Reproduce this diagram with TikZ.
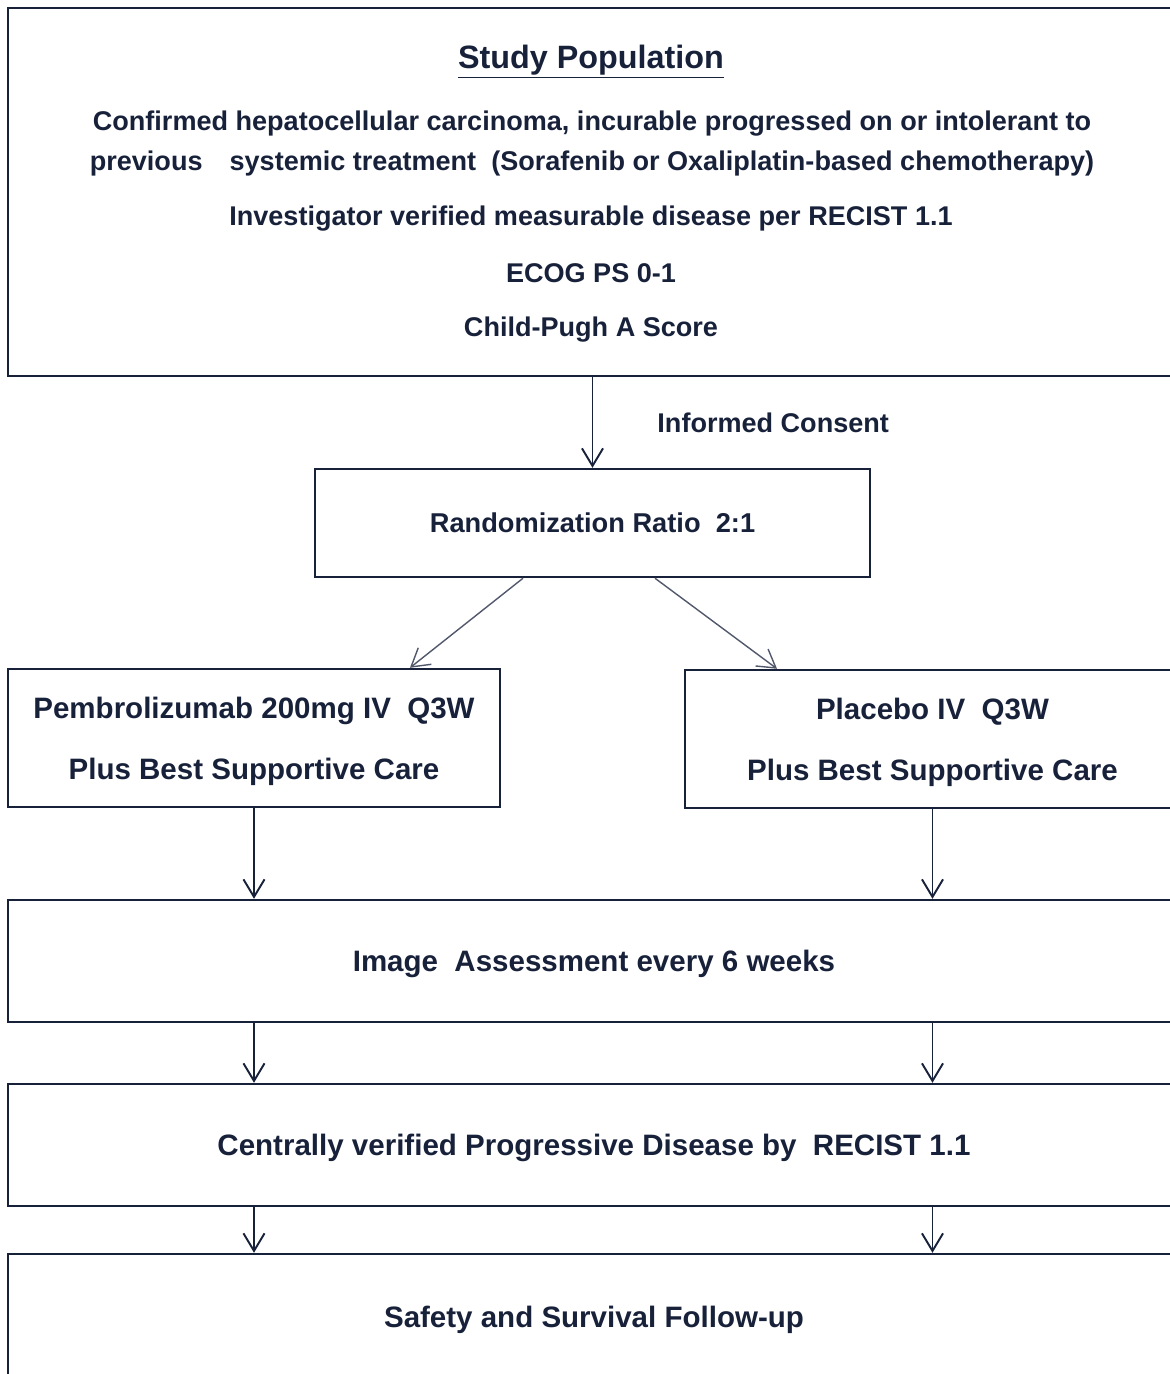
\documentclass[tikz,border=0pt]{standalone}
\usepackage{fontspec}
\setmainfont{Liberation Sans}
\usetikzlibrary{arrows.meta}
\definecolor{ink}{RGB}{24,33,58}
\tikzset{
  box/.style   = {shape=rectangle, draw=ink, line width=1.4pt,
                  inner sep=0pt, align=center, text=ink,
                  font=\bfseries\fontsize{16.8}{20}\selectfont},
  arm/.style   = {box, minimum height=2.76cm, text depth=0pt,
                  font=\bfseries\fontsize{16.8}{34.6}\selectfont},
  wide/.style  = {box, minimum width=23.44cm, text depth=0pt},
  txt/.style   = {text=ink, inner sep=0pt,
                  font=\bfseries\fontsize{15.4}{18}\selectfont},
  flow/.style  = {draw=ink, line width=1.1pt,
                  -{Straight Barb[length=10pt,width=12pt]}},
  split/.style = {flow, draw=ink!75, line width=0.8pt}
}
\begin{document}
\begin{tikzpicture}[x=0.02cm, y=-0.02cm]
  \useasboundingbox (0,0) rectangle (1170,1374);

  % study population
  \node [wide, minimum height=7.36cm] (pop) at (594,192) {};
  \node [txt, font=\bfseries\fontsize{18.4}{22}\selectfont] (title) at (591,62) {\underline{Study Population}};
  \node [txt] (crit1) at (592,124) {Confirmed hepatocellular carcinoma, incurable progressed on or intolerant to};
  \node [txt] (crit2) at (592,163) {previous\hspace{1em}systemic treatment \ (Sorafenib or Oxaliplatin-based chemotherapy)};
  \node [txt] (crit3) at (591,219) {Investigator verified measurable disease per RECIST 1.1};
  \node [txt] (crit4) at (591,273) {ECOG PS 0-1};
  \node [txt] (crit5) at (591,330) {Child-Pugh A Score};

  \node [box, minimum width=11.1cm, minimum height=2.16cm,
         font=\bfseries\fontsize{15.5}{18}\selectfont] (rand) at (592.5,523) {Randomization Ratio \ 2:1};

  % treatment arms
  \node [arm, minimum width=9.84cm] (pembro) at (254,738)
        {Pembrolizumab 200mg IV \ Q3W\\Plus Best Supportive Care};
  \node [arm, minimum width=9.9cm] (placebo) at (932.5,739)
        {Placebo IV \ Q3W\\Plus Best Supportive Care};

  \node [wide, minimum height=2.44cm] (image) at (594,961) {Image \ Assessment every 6 weeks};
  \node [wide, minimum height=2.44cm] (pd) at (594,1145) {Centrally verified Progressive Disease by \ RECIST 1.1};
  \node [wide, minimum height=2.52cm] (fu) at (594,1317) {Safety and Survival Follow-up};

  % connectors
  \draw [flow] (pop.south -| rand.north) -- (rand.north)
        node [txt, midway, right, xshift=1.28cm] {Informed Consent};
  \draw [split] ([xshift=-1.39cm]rand.south) -- ([xshift=3.12cm]pembro.north);
  \draw [split] ([xshift=1.25cm]rand.south) -- ([xshift=-3.11cm]placebo.north);
  \draw [flow] (pembro.south) -- (pembro.south |- image.north);
  \draw [flow] (placebo.south) -- (placebo.south |- image.north);
  \draw [flow] (pembro.south |- image.south) -- (pembro.south |- pd.north);
  \draw [flow] (placebo.south |- image.south) -- (placebo.south |- pd.north);
  \draw [flow] (pembro.south |- pd.south) -- (pembro.south |- fu.north);
  \draw [flow] (placebo.south |- pd.south) -- (placebo.south |- fu.north);
\end{tikzpicture}
\end{document}
